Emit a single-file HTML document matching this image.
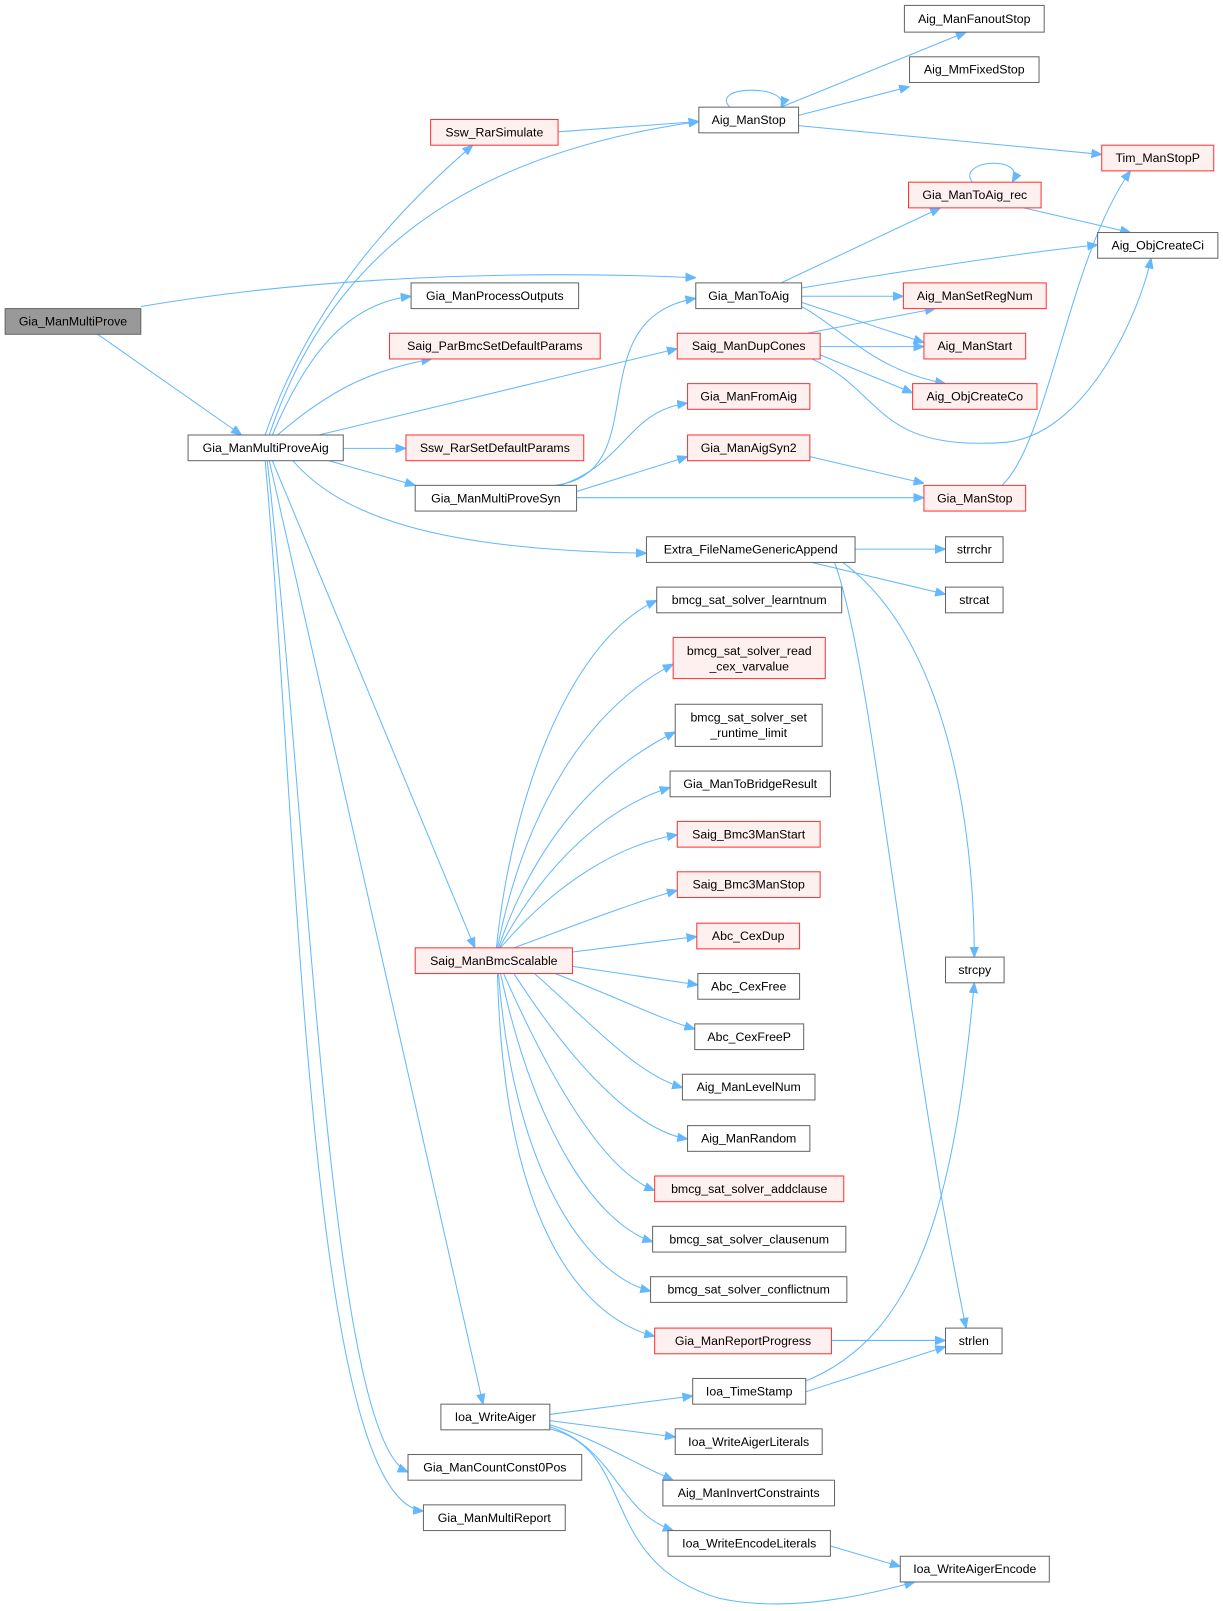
<!DOCTYPE html>
<html><head><meta charset="utf-8"><style>
html,body{margin:0;padding:0;background:#fff;}
svg{display:block}
text{font-family:"Liberation Sans",Arial,sans-serif;font-size:12px;fill:#000;text-anchor:middle}
.n{fill:#fff;stroke:#666;stroke-width:1}
.r{fill:#fff0f0;stroke:#f33;stroke-width:1}
.g{fill:#999;stroke:#666;stroke-width:1}
path.e{fill:none;stroke:#63b8ff;stroke-width:1;marker-end:url(#a)}
</style></head><body>
<svg width="1223" height="1611" viewBox="0 0 1190 1567" xmlns="http://www.w3.org/2000/svg">
<defs><marker id="a" viewBox="0 0 10 10" refX="10" refY="5" markerWidth="10" markerHeight="10" markerUnits="userSpaceOnUse" orient="auto"><path d="M0,1 L10,5 L0,9 z" fill="#63b8ff" stroke="#63b8ff"/></marker></defs>

<!-- edges -->
<path class="e" d="M95,325 L235,423"/>
<path class="e" d="M137,298 C300,270 500,262 677,270"/>
<path class="e" d="M258,423 C300,300 380,210 460,141"/>
<path class="e" d="M262,423 C320,250 450,150 680,118"/>
<path class="e" d="M265,423 C300,340 340,295 400,288"/>
<path class="e" d="M270,423 C320,380 360,360 420,349"/>
<path class="e" d="M310,423 L659,339"/>
<path class="e" d="M334,436 L395,436"/>
<path class="e" d="M320,448 L404,472"/>
<path class="e" d="M285,448 C330,500 420,535 629,538"/>
<path class="e" d="M265,448 L462,922"/>
<path class="e" d="M262,448 L470,1366"/>
<path class="e" d="M260,448 C300,800 320,1400 397,1432"/>
<path class="e" d="M258,448 C290,800 300,1460 412,1470"/>
<path class="e" d="M543,128 L680,118"/>
<path class="e" d="M710,104 C690,82 770,82 760,104"/>
<path class="e" d="M760,104 L940,31"/>
<path class="e" d="M777,112 L885,84"/>
<path class="e" d="M777,122 L1072,150"/>
<path class="e" d="M946,177 C930,155 1000,150 985,177"/>
<path class="e" d="M996,202 L1100,226"/>
<path class="e" d="M760,275 L915,202"/>
<path class="e" d="M780,280 C900,260 1000,245 1068,238"/>
<path class="e" d="M780,288 L879,288"/>
<path class="e" d="M780,294 L899,333"/>
<path class="e" d="M780,298 C820,320 850,360 920,373"/>
<path class="e" d="M785,324 L910,300"/>
<path class="e" d="M798,337 L899,337"/>
<path class="e" d="M798,345 L888,382"/>
<path class="e" d="M790,349 C860,380 850,440 980,430 C1060,420 1110,300 1120,251"/>
<path class="e" d="M540,472 C640,460 560,310 677,290"/>
<path class="e" d="M545,472 C610,450 610,400 669,392"/>
<path class="e" d="M561,478 L669,444"/>
<path class="e" d="M561,484 L899,484"/>
<path class="e" d="M788,444 L899,470"/>
<path class="e" d="M975,472 C1020,430 1040,250 1100,166"/>
<path class="e" d="M832,534 L920,534"/>
<path class="e" d="M790,547 L920,578"/>
<path class="e" d="M820,547 C920,620 948,800 948,931"/>
<path class="e" d="M812,547 C850,650 880,1000 940,1292"/>
<!-- BmcScalable fan-out -->
<path class="e" d="M483,922 C500,760 560,620 639,584"/>
<path class="e" d="M484,922 C510,790 570,690 655,646"/>
<path class="e" d="M485,922 C520,820 580,750 657,712"/>
<path class="e" d="M486,922 C530,840 590,785 652,766"/>
<path class="e" d="M487,922 C540,860 600,822 659,812"/>
<path class="e" d="M500,922 C560,900 610,880 659,866"/>
<path class="e" d="M557,926 L678,911"/>
<path class="e" d="M557,940 L679,958"/>
<path class="e" d="M540,947 C600,970 640,990 676,1001"/>
<path class="e" d="M520,947 C580,1000 620,1045 664,1058"/>
<path class="e" d="M500,947 C560,1040 620,1100 669,1108"/>
<path class="e" d="M490,947 C540,1060 590,1140 637,1158"/>
<path class="e" d="M487,947 C520,1100 580,1190 635,1208"/>
<path class="e" d="M485,947 C500,1140 570,1240 633,1256"/>
<path class="e" d="M484,947 C490,1180 560,1280 637,1300"/>
<path class="e" d="M809,1304 L920,1304"/>
<path class="e" d="M784,1354 L920,1310"/>
<path class="e" d="M780,1345 C900,1300 930,1150 948,956"/>
<path class="e" d="M535,1376 L674,1358"/>
<path class="e" d="M535,1382 L657,1398"/>
<path class="e" d="M535,1386 C580,1400 610,1420 655,1440"/>
<path class="e" d="M535,1388 C600,1410 600,1470 655,1489"/>
<path class="e" d="M535,1390 C620,1410 580,1520 700,1555 C770,1570 850,1550 890,1539"/>
<path class="e" d="M808,1504 L876,1524"/>

<!-- nodes -->
<rect class="g" x="5" y="300" width="132" height="25"/><text x="71" y="316.5">Gia_ManMultiProve</text>
<rect class="n" x="183" y="423" width="151" height="25"/><text x="258.5" y="439.5">Gia_ManMultiProveAig</text>
<rect class="r" x="419" y="116" width="124" height="25"/><text x="481" y="132.5">Ssw_RarSimulate</text>
<rect class="n" x="680" y="104" width="97" height="25"/><text x="728.5" y="120.5">Aig_ManStop</text>
<rect class="n" x="880" y="5" width="136" height="26"/><text x="948" y="22">Aig_ManFanoutStop</text>
<rect class="n" x="885" y="55" width="126" height="25"/><text x="948" y="71.5">Aig_MmFixedStop</text>
<rect class="r" x="1072" y="141" width="109" height="25"/><text x="1126.5" y="157.5">Tim_ManStopP</text>
<rect class="r" x="884" y="177" width="129" height="25"/><text x="948.5" y="193.5">Gia_ManToAig_rec</text>
<rect class="n" x="1068" y="226" width="117" height="25"/><text x="1126.5" y="242.5">Aig_ObjCreateCi</text>
<rect class="n" x="677" y="275" width="103" height="25"/><text x="728.5" y="291.5">Gia_ManToAig</text>
<rect class="n" x="400" y="275" width="163" height="25"/><text x="481.5" y="291.5">Gia_ManProcessOutputs</text>
<rect class="r" x="379" y="324" width="205" height="25"/><text x="481.5" y="340.5">Saig_ParBmcSetDefaultParams</text>
<rect class="r" x="879" y="275" width="139" height="25"/><text x="948.5" y="291.5">Aig_ManSetRegNum</text>
<rect class="r" x="659" y="324" width="139" height="25"/><text x="728.5" y="340.5">Saig_ManDupCones</text>
<rect class="r" x="899" y="324" width="99" height="25"/><text x="948.5" y="340.5">Aig_ManStart</text>
<rect class="r" x="888" y="373" width="121" height="25"/><text x="948.5" y="389.5">Aig_ObjCreateCo</text>
<rect class="r" x="669" y="373" width="119" height="25"/><text x="728.5" y="389.5">Gia_ManFromAig</text>
<rect class="r" x="395" y="423" width="173" height="25"/><text x="481.5" y="439.5">Ssw_RarSetDefaultParams</text>
<rect class="r" x="669" y="423" width="119" height="25"/><text x="728.5" y="439.5">Gia_ManAigSyn2</text>
<rect class="n" x="404" y="472" width="157" height="25"/><text x="482.5" y="488.5">Gia_ManMultiProveSyn</text>
<rect class="r" x="899" y="472" width="99" height="25"/><text x="948.5" y="488.5">Gia_ManStop</text>
<rect class="n" x="629" y="522" width="203" height="25"/><text x="730.5" y="538.5">Extra_FileNameGenericAppend</text>
<rect class="n" x="920" y="522" width="56" height="25"/><text x="948" y="538.5">strrchr</text>
<rect class="n" x="920" y="571" width="56" height="25"/><text x="948" y="587.5">strcat</text>
<rect class="n" x="639" y="571" width="180" height="25"/><text x="729" y="587.5">bmcg_sat_solver_learntnum</text>
<rect class="r" x="655" y="620" width="148" height="40"/><text x="729" y="637">bmcg_sat_solver_read</text><text x="729" y="652">_cex_varvalue</text>
<rect class="n" x="657" y="685" width="143" height="41"/><text x="728.5" y="702">bmcg_sat_solver_set</text><text x="728.5" y="717">_runtime_limit</text>
<rect class="n" x="652" y="750" width="156" height="25"/><text x="730" y="766.5">Gia_ManToBridgeResult</text>
<rect class="r" x="659" y="799" width="139" height="25"/><text x="728.5" y="815.5">Saig_Bmc3ManStart</text>
<rect class="r" x="659" y="848" width="139" height="25"/><text x="728.5" y="864.5">Saig_Bmc3ManStop</text>
<rect class="r" x="678" y="898" width="100" height="25"/><text x="728" y="914.5">Abc_CexDup</text>
<rect class="n" x="679" y="947" width="99" height="25"/><text x="728.5" y="963.5">Abc_CexFree</text>
<rect class="n" x="676" y="996" width="106" height="25"/><text x="729" y="1012.5">Abc_CexFreeP</text>
<rect class="n" x="664" y="1045" width="129" height="25"/><text x="728.5" y="1061.5">Aig_ManLevelNum</text>
<rect class="n" x="669" y="1095" width="119" height="25"/><text x="728.5" y="1111.5">Aig_ManRandom</text>
<rect class="r" x="637" y="1144" width="184" height="25"/><text x="729" y="1160.5">bmcg_sat_solver_addclause</text>
<rect class="n" x="635" y="1193" width="188" height="25"/><text x="729" y="1209.5">bmcg_sat_solver_clausenum</text>
<rect class="n" x="633" y="1242" width="191" height="25"/><text x="728.5" y="1258.5">bmcg_sat_solver_conflictnum</text>
<rect class="r" x="637" y="1292" width="172" height="25"/><text x="723" y="1308.5">Gia_ManReportProgress</text>
<rect class="n" x="920" y="931" width="57" height="25"/><text x="948.5" y="947.5">strcpy</text>
<rect class="n" x="920" y="1292" width="55" height="25"/><text x="947.5" y="1308.5">strlen</text>
<rect class="r" x="404" y="922" width="153" height="25"/><text x="480.5" y="938.5">Saig_ManBmcScalable</text>
<rect class="n" x="674" y="1341" width="110" height="25"/><text x="729" y="1357.5">Ioa_TimeStamp</text>
<rect class="n" x="429" y="1366" width="106" height="25"/><text x="482" y="1382.5">Ioa_WriteAiger</text>
<rect class="n" x="657" y="1390" width="143" height="25"/><text x="728.5" y="1406.5">Ioa_WriteAigerLiterals</text>
<rect class="n" x="645" y="1440" width="167" height="25"/><text x="728.5" y="1456.5">Aig_ManInvertConstraints</text>
<rect class="n" x="650" y="1489" width="158" height="25"/><text x="729" y="1505.5">Ioa_WriteEncodeLiterals</text>
<rect class="n" x="876" y="1514" width="145" height="25"/><text x="948.5" y="1530.5">Ioa_WriteAigerEncode</text>
<rect class="n" x="397" y="1415" width="169" height="25"/><text x="481.5" y="1431.5">Gia_ManCountConst0Pos</text>
<rect class="n" x="412" y="1464" width="138" height="25"/><text x="481" y="1480.5">Gia_ManMultiReport</text>
</svg>
</body></html>
